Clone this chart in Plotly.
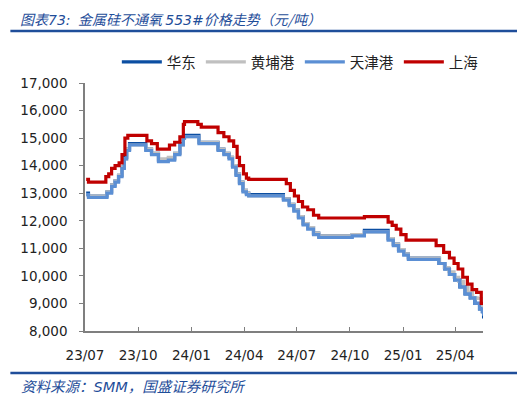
import plotly.graph_objects as go

# 上海
sh_dates = ["2023-07-03","2023-07-07","2023-08-06","2023-08-11","2023-08-16","2023-08-22","2023-08-29",
            "2023-09-03","2023-09-08","2023-09-13","2023-10-16","2023-10-24","2023-11-03","2023-11-24",
            "2023-12-03","2023-12-12","2023-12-18","2023-12-20","2024-01-12","2024-01-18","2024-02-16",
            "2024-02-26","2024-03-06","2024-03-14","2024-03-20","2024-03-24","2024-03-31","2024-04-05",
            "2024-04-09","2024-06-13","2024-06-20","2024-06-27","2024-07-04","2024-07-11","2024-07-20",
            "2024-07-30","2024-08-08","2024-10-26","2024-12-06","2024-12-13","2024-12-20","2024-12-28",
            "2025-01-06","2025-02-27","2025-03-12","2025-03-22","2025-03-30","2025-04-06","2025-04-14",
            "2025-04-22","2025-04-30","2025-05-08","2025-05-16","2025-05-20"]
sh_vals = [13500,13400,13600,13700,13900,14000,14100,
           14400,15000,15100,14900,14800,14600,14750,
           14850,15050,15500,15600,15500,15400,15200,
           15050,14900,14700,14300,14000,13700,13550,
           13500,13350,13100,12900,12700,12500,12400,
           12200,12100,12150,11950,11830,11700,11500,
           11300,11100,10850,10650,10450,10250,9950,
           9700,9500,9400,9000,8950]

# 华东
hd_dates = ["2023-07-03","2023-07-07","2023-08-08","2023-08-16","2023-08-22","2023-08-28","2023-09-03",
            "2023-09-07","2023-09-11","2023-09-16","2023-10-14","2023-10-24","2023-11-05","2023-11-22",
            "2023-12-03","2023-12-12","2023-12-18","2023-12-20","2024-01-14","2024-02-16","2024-02-26",
            "2024-03-06","2024-03-12","2024-03-18","2024-03-24","2024-03-30","2024-04-05","2024-04-09",
            "2024-06-08","2024-06-18","2024-06-26","2024-07-04","2024-07-12","2024-07-20","2024-07-30",
            "2024-08-08","2024-10-05","2024-10-26","2024-12-06","2024-12-15","2024-12-24","2025-01-02",
            "2025-01-10","2025-02-26","2025-03-04","2025-03-14","2025-03-22","2025-03-31","2025-04-09",
            "2025-04-18","2025-04-27","2025-05-05","2025-05-13","2025-05-18","2025-05-20"]
hd_vals = [13000,12900,13050,13300,13450,13650,13950,
           14300,14600,14800,14600,14450,14200,14250,
           14450,14800,15050,15100,14850,14600,14450,
           14300,14000,13700,13400,13100,13000,12950,
           12800,12600,12400,12150,11900,11750,11550,
           11450,11500,11650,11350,11150,10950,10800,
           10650,10650,10450,10250,10050,9850,9600,
           9350,9200,9000,8800,8700,8450]

# 黄埔港
hp_dates = ["2023-07-03","2023-07-07","2023-08-08","2023-08-16","2023-08-22","2023-08-28","2023-09-03",
            "2023-09-07","2023-09-11","2023-09-16","2023-10-14","2023-10-24","2023-11-05","2023-11-22",
            "2023-12-03","2023-12-12","2023-12-18","2023-12-20","2024-01-14","2024-02-16","2024-02-26",
            "2024-03-06","2024-03-12","2024-03-18","2024-03-24","2024-03-30","2024-04-05","2024-04-09",
            "2024-06-08","2024-06-18","2024-06-26","2024-07-04","2024-07-12","2024-07-20","2024-07-30",
            "2024-08-08","2024-10-05","2024-10-26","2024-12-06","2024-12-15","2024-12-24","2025-01-02",
            "2025-01-10","2025-03-05","2025-03-13","2025-03-21","2025-03-30","2025-04-07","2025-04-15",
            "2025-04-23","2025-05-01","2025-05-09","2025-05-17","2025-05-20"]
hp_vals = [12950,12900,13050,13300,13450,13650,13950,
           14250,14600,14750,14600,14450,14250,14300,
           14450,14750,15000,15050,14850,14600,14450,
           14300,14000,13700,13400,13100,13000,12900,
           12800,12600,12400,12150,11900,11750,11550,
           11450,11500,11600,11350,11150,10950,10800,
           10650,10450,10300,10150,9950,9800,9600,
           9400,9200,9180,8930,8800]

# 天津港
tj_dates = ["2023-07-03","2023-07-07","2023-08-08","2023-08-16","2023-08-22","2023-08-28","2023-09-03",
            "2023-09-07","2023-09-11","2023-09-16","2023-10-14","2023-10-24","2023-11-05","2023-11-22",
            "2023-12-03","2023-12-12","2023-12-18","2023-12-20","2024-01-14","2024-02-16","2024-02-26",
            "2024-03-06","2024-03-12","2024-03-18","2024-03-24","2024-03-30","2024-04-05","2024-04-09",
            "2024-06-08","2024-06-18","2024-06-26","2024-07-04","2024-07-12","2024-07-20","2024-07-30",
            "2024-08-08","2024-10-05","2024-10-26","2024-12-06","2024-12-15","2024-12-24","2025-01-02",
            "2025-01-10","2025-02-24","2025-03-04","2025-03-14","2025-03-22","2025-03-31","2025-04-09",
            "2025-04-18","2025-04-27","2025-05-05","2025-05-13","2025-05-18","2025-05-20"]
tj_vals = [12950,12850,13000,13250,13400,13600,13900,
           14250,14550,14750,14550,14400,14150,14200,
           14400,14750,15000,15050,14800,14550,14400,
           14250,13950,13650,13350,13050,12950,12900,
           12750,12550,12350,12100,11850,11700,11500,
           11400,11450,11600,11300,11100,10900,10750,
           10600,10600,10450,10250,10050,9850,9600,
           9350,9200,9000,8800,8700,8550]

names = ["华东", "黄埔港", "天津港", "上海"]
colors = ["#0B4EA2", "#C0C0C0", "#5B8FD4", "#C00000"]
series = [(hd_dates, hd_vals), (hp_dates, hp_vals), (tj_dates, tj_vals), (sh_dates, sh_vals)]

y_ticks = [8000, 9000, 10000, 11000, 12000, 13000, 14000, 15000, 16000, 17000]

fig = go.Figure()
for (d, v), n, c in zip(series, names, colors):
    fig.add_trace(go.Scatter(x=d, y=v, name=n, mode="lines", line_shape="hv",
                             line=dict(color=c, width=3.2)))

# page body has an 8px margin: figure is shifted by 8px, so shrink it accordingly
PW, PH = 400, 248          # plot area size
PL, PT = 83, 83            # plot area top-left in window pixels
def px(X):
    return (X - PL) / PW
def py(Y):
    return (PT + PH - Y) / PH

blue = "#1F4E9A"
lat = '<span style="font-family:DejaVu Sans">'
fig.update_layout(
    width=517, height=390,
    margin=dict(l=75, r=42, t=75, b=67),
    paper_bgcolor="white", plot_bgcolor="white",
    font=dict(family="DejaVu Sans", size=13.5, color="#222222"),
    showlegend=True,
    legend=dict(orientation="h", x=px(115), y=py(62), xanchor="left", yanchor="middle",
                font=dict(family="Noto Sans CJK SC", size=14.5, color="#222222"),
                itemwidth=40, tracegroupgap=0, bgcolor="rgba(0,0,0,0)"),
    xaxis=dict(type="date", range=["2023-07-01", "2025-05-19"],
               tick0="2023-07-01", dtick="M3", tickformat="%y/%m",
               ticks="inside", ticklen=4, tickcolor="#7F7F7F",
               showline=True, linecolor="#7F7F7F", linewidth=1.5,
               showgrid=False, zeroline=False, ticklabelstandoff=11,
               tickfont=dict(family="DejaVu Sans", size=13.5, color="#222222")),
    yaxis=dict(range=[8000, 17000], tickvals=y_ticks,
               ticktext=[f"{t:,}" for t in y_ticks],
               ticks="outside", ticklen=4, tickcolor="#7F7F7F",
               showline=True, linecolor="#7F7F7F", linewidth=1.5,
               showgrid=False, zeroline=False, ticklabelstandoff=9,
               tickfont=dict(family="DejaVu Sans", size=13.5, color="#222222")),
)

fig.add_annotation(xref="paper", yref="paper", x=px(17), y=py(18.5),
                   xanchor="left", yanchor="middle", showarrow=False, borderpad=0,
                   text=f"<i>图表{lat}73: </span> 金属硅不通氧 {lat}553#</span>价格走势（元/吨）</i>",
                   font=dict(family="Noto Sans CJK SC", size=14, color=blue))
fig.add_annotation(xref="paper", yref="paper", x=px(17), y=py(385),
                   xanchor="left", yanchor="middle", showarrow=False,
                   text=f"<i>资料来源：{lat}SMM</span>，国盛证券研究所</i>",
                   font=dict(family="Noto Sans CJK SC", size=14.5, color=blue))
fig.add_shape(type="line", xref="paper", yref="paper",
              x0=px(8), x1=px(520), y0=py(31), y1=py(31),
              line=dict(color=blue, width=2.5))
fig.add_shape(type="line", xref="paper", yref="paper",
              x0=px(8), x1=px(520), y0=py(373), y1=py(373),
              line=dict(color=blue, width=2.5))

fig.write_html("out.html")
